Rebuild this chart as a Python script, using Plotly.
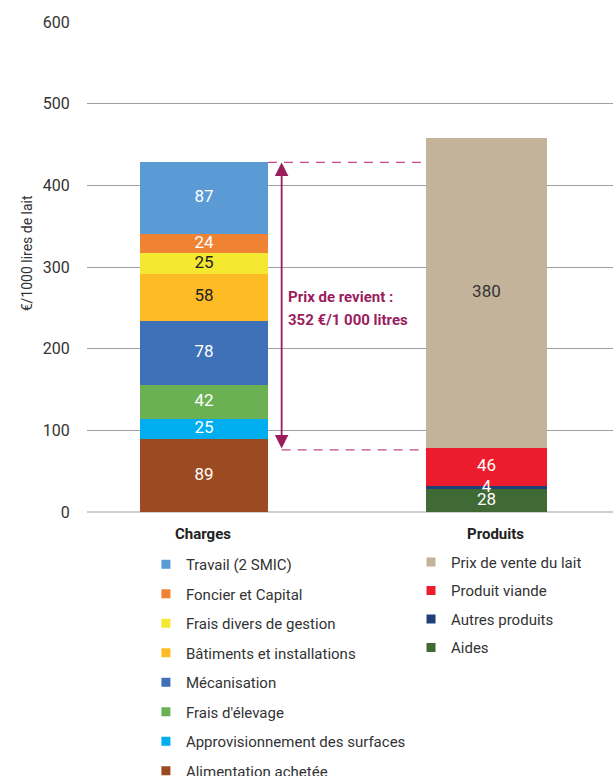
import plotly.graph_objects as go

# ---- data -----------------------------------------------------------------
charge_names = [
    "Alimentation achetée",
    "Approvisionnement des surfaces",
    "Frais d'élevage",
    "Mécanisation",
    "Bâtiments et installations",
    "Frais divers de gestion",
    "Foncier et Capital",
    "Travail (2 SMIC)",
]
charge_values = [89, 25, 42, 78, 58, 25, 24, 87]
charge_colors = ["#9B4A22", "#00AEEF", "#6BB154", "#3E71B8",
                 "#FDBB26", "#F4E831", "#F08234", "#5B9BD5"]
charge_label_colors = ["white", "white", "white", "white",
                       "#222222", "#222222", "white", "white"]

produit_names = ["Aides", "Autres produits", "Produit viande", "Prix de vente du lait"]
produit_values = [28, 4, 46, 380]
produit_colors = ["#406A35", "#1E3F78", "#EC1C2E", "#C4B39B"]
produit_label_colors = ["white", "white", "white", "#333333"]

categories = ["Charges", "Produits"]
prix_de_revient = 352  # €/1 000 litres
y_ticks = [0, 100, 200, 300, 400, 500, 600]

# ---- geometry of the two columns (x in category units) ----------------------
X_CH, X_PR = 0, 1
W_CH, W_PR = 0.453, 0.428

FONT = "Roboto, 'Liberation Sans', Arial, sans-serif"
PURPLE = "#9A1D5E"
DASH_COLOR = "#C9478A"

fig = go.Figure()


def cumulative_mids(values):
    mids, base = [], 0
    for v in values:
        mids.append(base + v / 2)
        base += v
    return mids, base


# stacked columns
for name, val, col in zip(charge_names, charge_values, charge_colors):
    fig.add_bar(x=[X_CH], y=[val], width=[W_CH], marker=dict(color=col, line_width=0),
                name=name, showlegend=False, hoverinfo="name+y")
for name, val, col in zip(produit_names, produit_values, produit_colors):
    fig.add_bar(x=[X_PR], y=[val], width=[W_PR], marker=dict(color=col, line_width=0),
                name=name, showlegend=False, hoverinfo="name+y")

# value labels centred in each segment
ch_mids, total_charges = cumulative_mids(charge_values)
pr_mids, total_produits = cumulative_mids(produit_values)
fig.add_scatter(x=[X_CH] * len(charge_values), y=ch_mids, mode="text",
                text=[str(v) for v in charge_values],
                textfont=dict(family=FONT, size=17, color=charge_label_colors),
                showlegend=False, hoverinfo="skip")
fig.add_scatter(x=[X_PR] * len(produit_values), y=pr_mids, mode="text",
                text=[str(v) for v in produit_values],
                textfont=dict(family=FONT, size=17, color=produit_label_colors),
                showlegend=False, hoverinfo="skip")

# legend entries (top of stack listed first), one group per entry for spacing
for name, col in reversed(list(zip(charge_names, charge_colors))):
    fig.add_scatter(x=[None], y=[None], mode="markers", name=name, legend="legend",
                    legendgroup=name,
                    marker=dict(symbol="square", size=9, color=col))
for name, col in reversed(list(zip(produit_names, produit_colors))):
    fig.add_scatter(x=[None], y=[None], mode="markers", name=name, legend="legend2",
                    legendgroup=name,
                    marker=dict(symbol="square", size=9, color=col))

# cost-price bracket
arrow_x = 0.275
low = total_charges - prix_de_revient
fig.add_shape(type="line", xref="x", yref="y",
              x0=X_CH + W_CH / 2, x1=X_PR - W_PR / 2, y0=total_charges, y1=total_charges,
              line=dict(color=DASH_COLOR, width=1.3, dash="9px,7px"))
fig.add_shape(type="line", xref="x", yref="y",
              x0=arrow_x, x1=X_PR - W_PR / 2, y0=low, y1=low,
              line=dict(color=DASH_COLOR, width=1.3, dash="9px,7px"))
fig.add_annotation(x=arrow_x, y=total_charges, ax=arrow_x, ay=low,
                   xref="x", yref="y", axref="x", ayref="y",
                   showarrow=True, arrowside="end+start", arrowhead=2,
                   arrowsize=1.5, arrowwidth=1.8, arrowcolor=PURPLE,
                   standoff=0, startstandoff=0, text="")
fig.add_annotation(x=arrow_x + 0.015, y=263, xref="x", yref="y",
                   text="<b>Prix de revient :</b>", showarrow=False,
                   xanchor="left", yanchor="middle",
                   font=dict(family=FONT, size=15, color=PURPLE))
fig.add_annotation(x=arrow_x + 0.015, y=235, xref="x", yref="y",
                   text=f"<b>{prix_de_revient} €/1 000 litres</b>", showarrow=False,
                   xanchor="left", yanchor="middle",
                   font=dict(family=FONT, size=15, color=PURPLE))

# column headings (also head the legends)
for xc, label in zip([X_CH - 0.003, X_PR + 0.033], categories):
    fig.add_annotation(x=xc, y=-0.045, xref="x", yref="paper", yanchor="middle",
                       text=f"<b>{label}</b>", showarrow=False,
                       font=dict(family=FONT, size=15, color="#222222"))

# y-axis title
fig.add_annotation(x=-0.133, y=0.528, xref="paper", yref="paper",
                   text="€/1000 lires de lait", textangle=-90, showarrow=False,
                   font=dict(family=FONT, size=14, color="#333333"))

legend_common = dict(
    orientation="v", traceorder="grouped",
    font=dict(family=FONT, size=15, color="#333333"),
    bgcolor="rgba(0,0,0,0)", borderwidth=0,
    xanchor="left", yanchor="top", itemclick=False, itemdoubleclick=False,
)

fig.update_layout(
    width=613, height=776,
    margin=dict(l=87, r=0, t=22, b=264, autoexpand=False),
    paper_bgcolor="white", plot_bgcolor="white",
    barmode="stack", bargap=0,
    font=dict(family=FONT, size=15, color="#333333"),
    showlegend=True,
    legend=dict(x=0.112, y=-0.0735, tracegroupgap=7, **legend_common),
    legend2=dict(x=0.616, y=-0.069, tracegroupgap=6, **legend_common),
    xaxis=dict(range=[-0.414, 1.448], showgrid=False, zeroline=False,
               showticklabels=False, ticks="", fixedrange=True),
    yaxis=dict(range=[0, 600], tickvals=y_ticks, showgrid=True,
               gridcolor="#9E9E9E", gridwidth=1.2,
               zeroline=True, zerolinecolor="#CFCFCF", zerolinewidth=1.5,
               ticks="outside", ticklen=13, tickcolor="rgba(0,0,0,0)",
               tickfont=dict(family=FONT, size=16, color="#333333"),
               fixedrange=True),
)

fig.write_html("out.html")
